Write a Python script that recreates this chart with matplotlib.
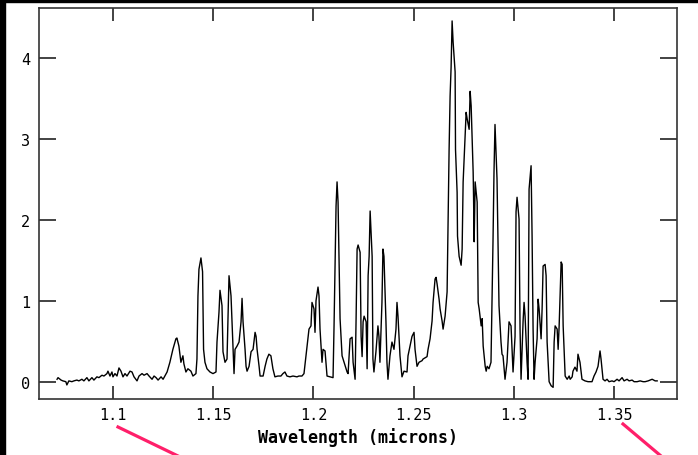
import matplotlib
matplotlib.use('Agg')
import matplotlib.pyplot as plt
from matplotlib.patches import Rectangle
from matplotlib.lines import Line2D

plt.rcParams['font.family'] = 'DejaVu Sans Mono'

# spectrum, read in pieces from blue to red
wave_blue = [1.0721, 1.0726, 1.0741, 1.0750, 1.0765, 1.0770, 1.0780, 1.0795, 1.0805, 1.0820,
             1.0830, 1.0845, 1.0855, 1.0870, 1.0880, 1.0895, 1.0905, 1.0920, 1.0930, 1.0945,
             1.0955, 1.0970, 1.0975, 1.0985, 1.0995, 1.1000, 1.1010, 1.1020, 1.1030, 1.1040,
             1.1050, 1.1060, 1.1070, 1.1085, 1.1095, 1.1105, 1.1120, 1.1130, 1.1145, 1.1155,
             1.1170, 1.1180, 1.1195, 1.1205, 1.1215, 1.1225, 1.1240, 1.1250]
flux_blue = [0.03, 0.05, 0.02, 0.01, 0.00, -0.04, 0.01, 0.00, 0.01, 0.02,
             0.01, 0.03, 0.01, 0.05, 0.01, 0.05, 0.02, 0.06, 0.05, 0.08,
             0.07, 0.10, 0.13, 0.07, 0.12, 0.06, 0.10, 0.07, 0.17, 0.13,
             0.06, 0.10, 0.07, 0.13, 0.12, 0.06, 0.01, 0.07, 0.10, 0.08,
             0.10, 0.07, 0.03, 0.07, 0.05, 0.02, 0.06, 0.03]

wave_b1 = [1.1270, 1.1284, 1.1299, 1.1314, 1.1319, 1.1329, 1.1339, 1.1349, 1.1354, 1.1364,
           1.1374, 1.1389, 1.1399, 1.1414, 1.1419, 1.1424, 1.1429, 1.1439, 1.1447, 1.1452,
           1.1459, 1.1469, 1.1484, 1.1499, 1.1514, 1.1519, 1.1529, 1.1534, 1.1544, 1.1549,
           1.1559, 1.1569, 1.1574, 1.1579, 1.1589, 1.1599, 1.1604, 1.1609, 1.1619, 1.1629,
           1.1639, 1.1644, 1.1649, 1.1659, 1.1664, 1.1669, 1.1679, 1.1689, 1.1699, 1.1709,
           1.1714, 1.1719, 1.1729, 1.1734, 1.1749, 1.1759, 1.1768, 1.1778, 1.1788, 1.1798,
           1.1808, 1.1823, 1.1838, 1.1848, 1.1858, 1.1868, 1.1883, 1.1898, 1.1918, 1.1928]
flux_b1 = [0.12, 0.24, 0.40, 0.53, 0.54, 0.44, 0.24, 0.32, 0.22, 0.12,
           0.16, 0.13, 0.07, 0.10, 0.28, 1.06, 1.39, 1.53, 1.36, 0.40,
           0.24, 0.16, 0.12, 0.10, 0.12, 0.49, 0.86, 1.13, 0.94, 0.37,
           0.24, 0.28, 0.78, 1.31, 1.06, 0.44, 0.10, 0.40, 0.44, 0.49,
           0.74, 1.03, 0.74, 0.40, 0.19, 0.13, 0.19, 0.37, 0.40, 0.61,
           0.56, 0.40, 0.19, 0.07, 0.07, 0.19, 0.28, 0.34, 0.32, 0.16,
           0.06, 0.07, 0.07, 0.10, 0.12, 0.07, 0.06, 0.07, 0.06, 0.07]

wave_b2 = [1.1943, 1.1953, 1.1963, 1.1973, 1.1978, 1.1988, 1.1993, 1.2003, 1.2008, 1.2013,
           1.2023, 1.2028, 1.2033, 1.2043, 1.2048, 1.2058, 1.2068, 1.2083, 1.2098, 1.2103,
           1.2113, 1.2118, 1.2123, 1.2133, 1.2143, 1.2153, 1.2168, 1.2173, 1.2183, 1.2193,
           1.2198, 1.2208, 1.2213, 1.2218, 1.2223, 1.2233, 1.2238, 1.2243, 1.2248, 1.2253,
           1.2263, 1.2268, 1.2273, 1.2278, 1.2283, 1.2293, 1.2297, 1.2302, 1.2312, 1.2322,
           1.2327, 1.2332, 1.2342, 1.2347, 1.2352, 1.2362, 1.2367, 1.2372, 1.2382, 1.2392,
           1.2402, 1.2412, 1.2417, 1.2422, 1.2432, 1.2442, 1.2452, 1.2467, 1.2472, 1.2482,
           1.2492, 1.2502, 1.2507, 1.2517, 1.2527, 1.2542]
flux_b2 = [0.07, 0.10, 0.32, 0.53, 0.65, 0.69, 0.98, 0.90, 0.61, 1.00,
           1.17, 1.06, 0.65, 0.24, 0.40, 0.38, 0.07, 0.06, 0.05, 0.69,
           2.17, 2.47, 2.22, 0.78, 0.32, 0.24, 0.12, 0.10, 0.53, 0.55,
           0.24, 0.03, 0.78, 1.64, 1.69, 1.60, 0.56, 0.31, 0.74, 0.81,
           0.74, 0.16, 1.31, 1.55, 2.11, 1.55, 0.28, 0.12, 0.37, 0.69,
           0.56, 0.24, 0.98, 1.64, 1.55, 0.74, 0.24, 0.03, 0.32, 0.49,
           0.40, 0.65, 0.98, 0.81, 0.32, 0.06, 0.13, 0.12, 0.32, 0.44,
           0.56, 0.61, 0.40, 0.19, 0.24, 0.26]

wave_j = [1.2547, 1.2567, 1.2572, 1.2582, 1.2592, 1.2597, 1.2607, 1.2612, 1.2617, 1.2627,
          1.2632, 1.2642, 1.2647, 1.2657, 1.2667, 1.2672, 1.2677, 1.2682, 1.2687, 1.2692,
          1.2697, 1.2707, 1.2709, 1.2717, 1.2719, 1.2727, 1.2737, 1.2742, 1.2747, 1.2757,
          1.2762, 1.2767, 1.2777, 1.2782, 1.2787, 1.2797, 1.2799, 1.2802, 1.2807, 1.2817,
          1.2822, 1.2827, 1.2837, 1.2842, 1.2847, 1.2857, 1.2862, 1.2867, 1.2876, 1.2886,
          1.2896, 1.2901, 1.2906, 1.2916, 1.2921, 1.2926, 1.2936, 1.2941, 1.2946, 1.2956]
flux_j = [0.28, 0.31, 0.40, 0.53, 0.75, 0.98, 1.27, 1.29, 1.21, 1.02,
          0.90, 0.75, 0.65, 0.81, 1.11, 2.01, 2.87, 3.53, 3.89, 4.46,
          4.20, 3.83, 2.87, 2.34, 1.80, 1.55, 1.44, 1.64, 2.47, 3.04,
          3.33, 3.25, 3.12, 3.59, 3.41, 2.59, 2.29, 1.73, 2.47, 2.22,
          0.98, 0.90, 0.69, 0.78, 0.44, 0.19, 0.13, 0.19, 0.16, 0.24,
          1.73, 2.59, 3.18, 2.51, 1.73, 0.94, 0.49, 0.34, 0.32, 0.03]

wave_r1 = [1.2966, 1.2976, 1.2986, 1.2991, 1.2996, 1.3006, 1.3011, 1.3016, 1.3026, 1.3031,
           1.3036, 1.3046, 1.3051, 1.3056, 1.3066, 1.3071, 1.3076, 1.3086, 1.3091, 1.3096,
           1.3101, 1.3106, 1.3116, 1.3121, 1.3126, 1.3136, 1.3141, 1.3146, 1.3156, 1.3161,
           1.3166, 1.3176, 1.3186, 1.3196, 1.3201, 1.3206, 1.3216, 1.3221, 1.3226, 1.3236,
           1.3241, 1.3246, 1.3256, 1.3266, 1.3276]
flux_r1 = [0.24, 0.74, 0.69, 0.40, 0.12, 0.56, 2.10, 2.28, 2.01, 0.65,
           0.03, 0.74, 0.98, 0.81, 0.24, 0.03, 2.38, 2.67, 1.80, 0.65,
           0.03, 0.24, 0.53, 1.02, 0.90, 0.53, 0.90, 1.43, 1.45, 1.31,
           0.49, 0.00, -0.05, -0.07, 0.49, 0.69, 0.65, 0.40, 0.69, 1.48,
           1.45, 0.69, 0.07, 0.03, 0.07]

wave_red = [1.3281, 1.3291, 1.3295, 1.3305, 1.3315, 1.3320, 1.3330, 1.3340, 1.3355, 1.3370,
            1.3390, 1.3400, 1.3410, 1.3420, 1.3430, 1.3435, 1.3445, 1.3455, 1.3465, 1.3475,
            1.3490, 1.3500, 1.3515, 1.3525, 1.3540, 1.3550, 1.3565, 1.3575, 1.3590, 1.3600,
            1.3615, 1.3630, 1.3645, 1.3655, 1.3670, 1.3690, 1.3705, 1.3715]
flux_red = [0.03, 0.06, 0.13, 0.18, 0.13, 0.34, 0.24, 0.03, 0.01, 0.00,
            0.00, 0.07, 0.12, 0.19, 0.38, 0.28, 0.03, 0.01, 0.03, 0.00,
            0.01, 0.00, 0.03, 0.01, 0.05, 0.01, 0.03, 0.01, 0.02, 0.00,
            0.00, 0.01, 0.00, 0.00, 0.01, 0.03, 0.01, 0.01]

wavelength = wave_blue + wave_b1 + wave_b2 + wave_j + wave_r1 + wave_red
flux = flux_blue + flux_b1 + flux_b2 + flux_j + flux_r1 + flux_red

xticks = [1.1, 1.15, 1.2, 1.25, 1.3, 1.35]
xticklabels = ['1.1', '1.15', '1.2', '1.25', '1.3', '1.35']
yticks = [0, 1, 2, 3, 4]

W, H = 698, 456
fig = plt.figure(figsize=(W / 100, H / 100), dpi=100)
ax = fig.add_axes([39 / W, (H - 400) / H, (677 - 39) / W, (400 - 9) / H])

ax.plot(wavelength, flux, color='black', lw=1.0)
ax.set_xlim(1.0631, 1.3814)
ax.set_ylim(-0.214, 4.62)

ax.set_xticks(xticks)
ax.set_xticklabels(xticklabels)
ax.set_yticks(yticks)
ax.tick_params(axis='both', direction='in', top=True, right=True,
               width=1.2, color='#222222', labelsize=11)
ax.tick_params(axis='x', length=9.4, pad=5.5)
ax.tick_params(axis='y', length=12.2, pad=6.5)
for s in ax.spines.values():
    s.set_linewidth(1.2)
    s.set_color('#333333')

ax.set_xlabel('Wavelength (microns)', fontsize=12, fontweight='bold', labelpad=4)

# black strips along the left and top edges
fig.patches.append(Rectangle((0, 0), 5 / W, 1, transform=fig.transFigure,
                             color='black', zorder=5))
fig.patches.append(Rectangle((0, 1 - 3 / H), 1, 3 / H, transform=fig.transFigure,
                             color='black', zorder=5))

# pink guide strokes below the axis
pink = '#ff1f6a'
for (x0, y0), (x1, y1) in [((118, 428), (178, 457)), ((623, 425), (661, 457))]:
    fig.lines.append(Line2D([x0 / W, x1 / W], [1 - y0 / H, 1 - y1 / H],
                            transform=fig.transFigure, color=pink, lw=2.3))

fig.savefig('out.png', dpi=100)
